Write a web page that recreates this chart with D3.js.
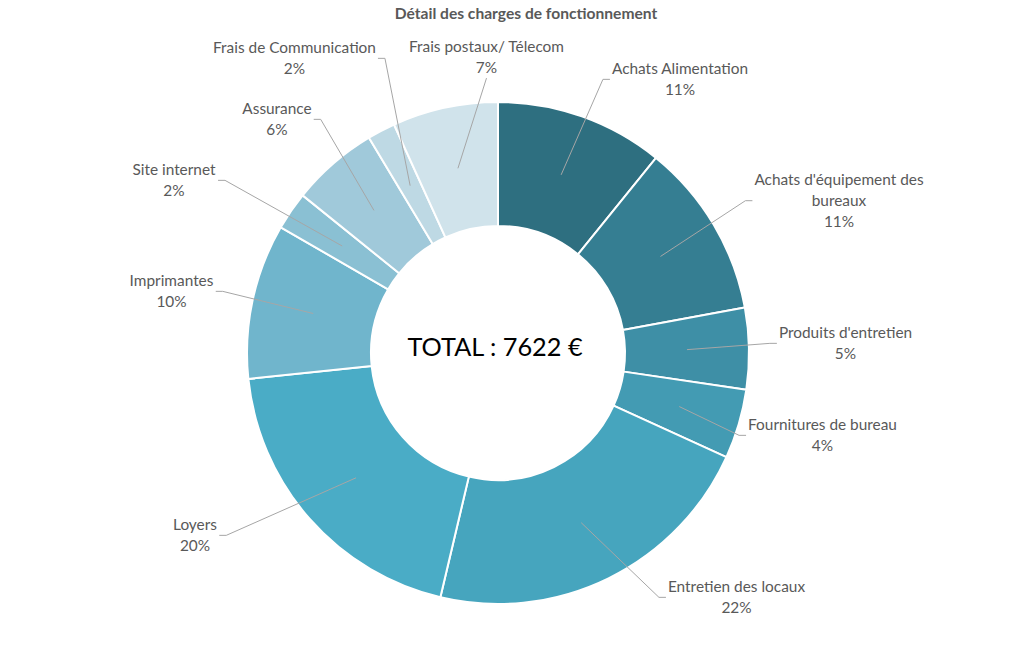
<!DOCTYPE html>
<html><head><meta charset="utf-8">
<script src="https://cdn.jsdelivr.net/npm/d3@7"></script>
<style>body{margin:0;background:#fff;} svg{display:block;}</style>
</head><body>
<svg id="chart" width="1024" height="653"></svg>
<script>
// ---- data ----
const categories = ["Achats Alimentation", "Achats d'équipement des bureaux", "Produits d'entretien",
  "Fournitures de bureau", "Entretien des locaux", "Loyers", "Imprimantes", "Site internet",
  "Assurance", "Frais de Communication", "Frais postaux/ Télecom"];
const values = [826, 858, 400, 340, 1668, 1499, 762, 187, 427, 137, 518]; // €
const colors = ["#2E6F80", "#357E92", "#3E8FA6", "#439BB3", "#46A5BE", "#4AACC6",
  "#70B5CC", "#8AC0D3", "#A0C9DA", "#BED9E4", "#D0E3EB"];
const labelLines = [["Achats Alimentation"], ["Achats d'équipement des", "bureaux"], ["Produits d'entretien"],
  ["Fournitures de bureau"], ["Entretien des locaux"], ["Loyers"], ["Imprimantes"], ["Site internet"],
  ["Assurance"], ["Frais de Communication"], ["Frais postaux/ Télecom"]];
const title = "Détail des charges de fonctionnement";

// ---- layout (label block: centre x, first line centre y) ----
const labelPos = [[680, 69], [839, 180], [845.5, 333], [822.5, 425], [736.5, 587], [195, 525],
  [171.5, 281], [174, 170], [277, 109], [294.5, 48], [486.5, 47]];
const cx = 498, cy = 353, R = 251, r = 127, lineH = 20.7;
const FONT = "Lato, 'Open Sans', sans-serif";

const svg = d3.select("#chart");
const total = d3.sum(values);
const fmt = d3.format(".0%");

svg.append("text").attr("x", 526).attr("y", 14).attr("dy", "0.35em")
  .attr("text-anchor", "middle").attr("font-family", FONT).attr("font-weight", "bold")
  .attr("font-size", 15.6).attr("fill", "#595959").text(title);

const pie = d3.pie().sort(null).value(d => d).startAngle(0).endAngle(2 * Math.PI);
const arcs = pie(values);
const arc = d3.arc().innerRadius(r).outerRadius(R);

const g = svg.append("g").attr("transform", `translate(${cx},${cy})`);
g.selectAll("path.slice").data(arcs).join("path").attr("class", "slice")
  .attr("d", arc).attr("fill", (d, i) => colors[i])
  .attr("stroke", "#fff").attr("stroke-width", 2).attr("stroke-linejoin", "round");

g.append("text").attr("x", -3).attr("y", -6).attr("dy", "0.35em").attr("text-anchor", "middle")
  .attr("font-family", FONT).attr("font-size", 25.3).attr("fill", "#000")
  .text(`TOTAL : ${total} €`);

// labels
const lineLayer = svg.append("g");
const labelLayer = svg.append("g");
arcs.forEach((a, i) => {
  const lines = labelLines[i].concat([fmt(values[i] / total)]);
  const [lx, ly] = labelPos[i];
  const t = labelLayer.append("text").attr("text-anchor", "middle").attr("font-family", FONT)
    .attr("font-size", 15.4).attr("fill", "#595959");
  lines.forEach((s, k) => t.append("tspan").attr("x", lx).attr("y", ly + k * lineH).attr("dy", "0.35em").text(s));
  const bb = t.node().getBBox();
  const [ax0, ay0] = arc.centroid(a);
  const ax = ax0 + cx, ay = ay0 + cy;
  const midY = ly + (lines.length - 1) * lineH / 2;
  let pts;
  if (ax > bb.x && ax < bb.x + bb.width && ay > bb.y + bb.height) {
    pts = [[ax, ay], [lx, bb.y + bb.height + 2]];
  } else if (ax > bb.x + bb.width) {
    pts = [[ax, ay], [bb.x + bb.width + 9, midY], [bb.x + bb.width + 2, midY]];
  } else {
    pts = [[ax, ay], [bb.x - 9, midY], [bb.x - 2, midY]];
  }
  lineLayer.append("path").attr("d", d3.line()(pts)).attr("fill", "none")
    .attr("stroke", "#A6A6A6").attr("stroke-width", 1);
});
</script>
</body></html>
